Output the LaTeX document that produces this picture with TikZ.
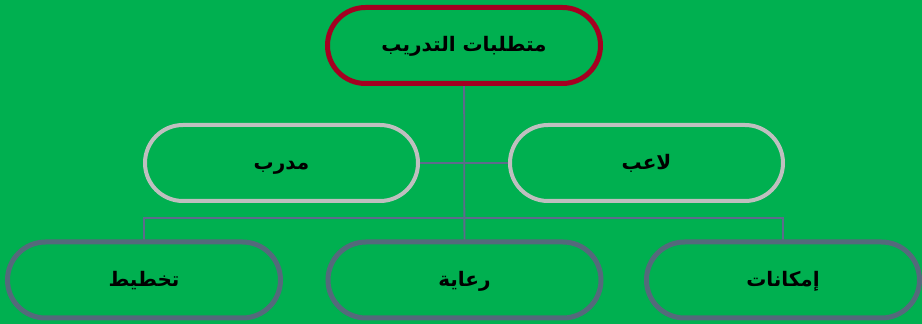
\documentclass[tikz,border=0pt]{standalone}
\usepackage{fontspec}
\newfontfamily\arabicfont[Script=Arabic]{DejaVu Sans}
\TeXXeTstate=1
\definecolor{bggreen}{HTML}{00B050}
\definecolor{topred}{HTML}{A50021}
\definecolor{midgrey}{HTML}{BFBFBF}
\definecolor{botslate}{HTML}{546A7B}
\definecolor{linkcol}{HTML}{5E6B8C}
\tikzset{
  pill/.style={rectangle, rounded corners=38pt, minimum width=273pt, minimum height=76pt,
    fill=bggreen, inner sep=0pt, text height=16pt, text depth=3pt,
    font=\arabicfont\bfseries\fontsize{20}{24}\selectfont, text=black},
  toppill/.style={pill, draw=topred, line width=5pt},
  midpill/.style={pill, draw=midgrey, line width=4pt},
  botpill/.style={pill, draw=botslate, line width=5pt},
  link/.style={draw=linkcol, line width=1.8pt}
}
\begin{document}
\begin{tikzpicture}[x=1pt,y=1pt]
\fill[bggreen] (0,0) rectangle (922,324);
\useasboundingbox (0,0) rectangle (922,324);
% connectors first
\coordinate (topc) at (464,278.5);
\coordinate (bmc) at (464.5,44);
\draw[link] (topc) -- (bmc);
\coordinate (mlc) at (281.5,161);
\coordinate (mrc) at (646.5,161);
\draw[link] (mlc) -- (mrc);
\coordinate (blc) at (144,44);
\coordinate (brc) at (783,44);
\draw[link] (blc) -- ++(0,62) -| (brc);
% nodes
\node[toppill] (top) at (topc) {\beginR متطلبات التدريب\endR};
\node[midpill] (ml) at (mlc) {\beginR مدرب\endR};
\node[midpill] (mr) at (mrc) {\beginR لاعب\endR};
\node[botpill] (bl) at (blc) {\beginR تخطيط\endR};
\node[botpill] (bm) at (bmc) {\beginR رعاية\endR};
\node[botpill] (br) at (brc) {\beginR إمكانات\endR};
\end{tikzpicture}
\end{document}
